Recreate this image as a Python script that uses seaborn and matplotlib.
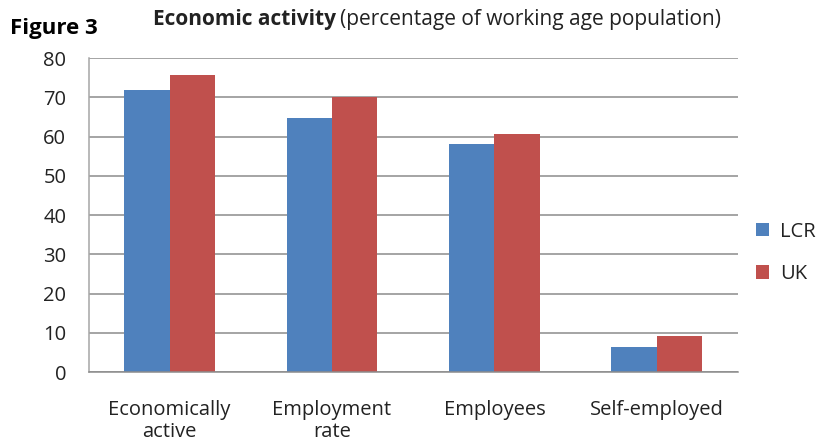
import matplotlib
matplotlib.use("Agg")
import matplotlib.pyplot as plt
import seaborn as sns
import pandas as pd

categories = ["Economically\nactive", "Employment\nrate", "Employees", "Self-employed"]
lcr_values = [72.0, 64.8, 58.1, 6.4]
uk_values = [75.8, 70.0, 60.7, 9.1]
series_names = ["LCR", "UK"]
y_ticks = [0, 10, 20, 30, 40, 50, 60, 70, 80]

df = pd.DataFrame({
    "category": categories * 2,
    "value": lcr_values + uk_values,
    "series": [series_names[0]] * 4 + [series_names[1]] * 4,
})

sns.set_theme(style="white")
plt.rcParams["font.family"] = ["Open Sans", "DejaVu Sans"]

fig = plt.figure(figsize=(8.31, 4.44), dpi=100)
ax = fig.add_axes([0.1065, 0.162, 0.7815, 0.707])

palette = {"LCR": "#4F81BD", "UK": "#C0504D"}
sns.barplot(data=df, x="category", y="value", hue="series", palette=palette,
            order=categories, hue_order=series_names, width=0.56,
            saturation=1, ax=ax, legend=True)

for p in ax.patches:
    p.set_edgecolor("none")

ax.set_ylim(0, 80)
ax.set_yticks(y_ticks)
ax.set_yticklabels([str(t) for t in y_ticks], fontsize=14.5, color="#222222")
ax.tick_params(axis="x", labelsize=14.5, labelcolor="#222222", pad=20, length=0)
ax.tick_params(axis="y", length=0, pad=16)
for lbl in ax.get_xticklabels():
    lbl.set_linespacing(1.15)
ax.set_xlabel("")
ax.set_ylabel("")
ax.yaxis.grid(True, color="#8C8C8C", linewidth=1.1)
ax.set_axisbelow(True)
for side in ["top", "right"]:
    ax.spines[side].set_visible(False)
ax.spines["left"].set_color("#A6A6A6")
ax.spines["bottom"].set_color("#8C8C8C")
ax.spines["left"].set_linewidth(1.1)
ax.spines["bottom"].set_linewidth(1.1)
ax.set_xlim(-0.5, 3.5)

leg = ax.legend(loc="center left", bbox_to_anchor=(1.0, 0.38), frameon=False,
                fontsize=14.5, handlelength=0.65, handleheight=0.65,
                handletextpad=0.55, labelspacing=1.1)
for t in leg.get_texts():
    t.set_color("#222222")

fig.text(0.012, 0.935, "Figure 3", fontsize=16, fontweight="bold",
         family=["Open Sans", "DejaVu Sans"], color="black", va="center")
title = fig.text(0.184, 0.955, "Economic activity", fontsize=15, fontweight="bold",
                 color="#222222", va="center")
fig.canvas.draw()
bb = title.get_window_extent()
x1 = bb.x1 / fig.bbox.width
fig.text(x1 + 0.005, 0.955, "(percentage of working age population)", fontsize=15,
         color="#222222", va="center")

fig.savefig("out.png", dpi=100)
